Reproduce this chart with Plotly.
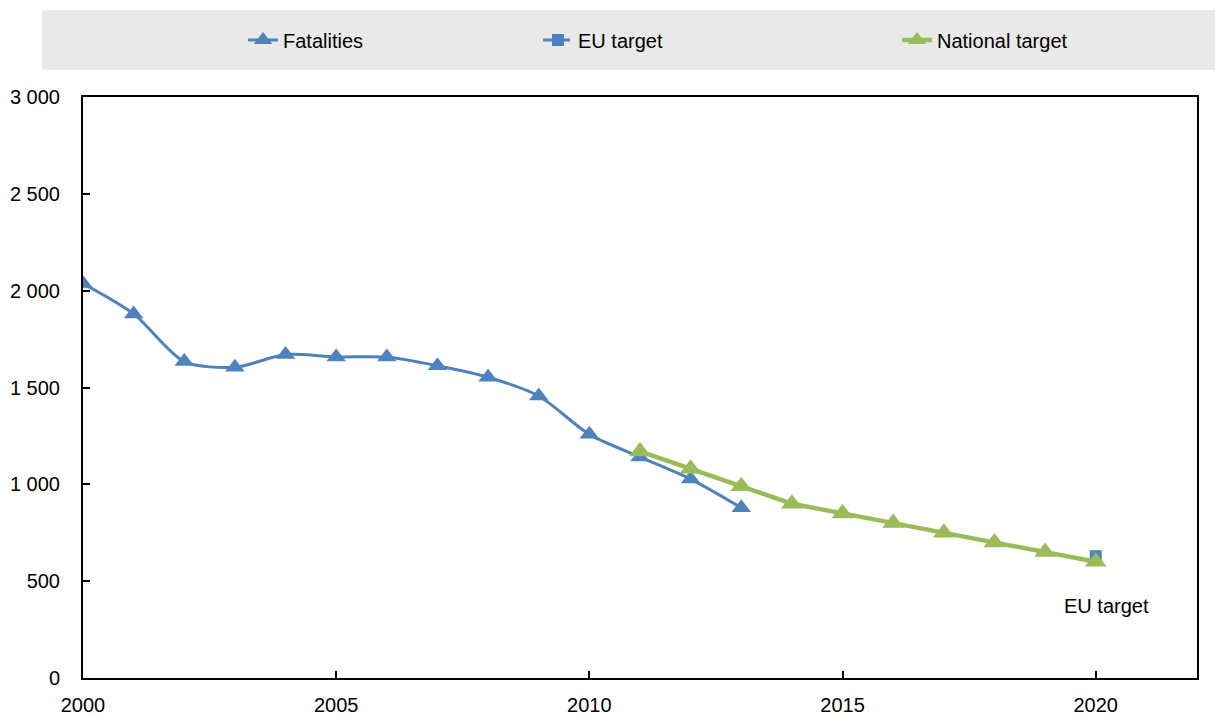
import plotly.graph_objects as go

years_fat = [2000, 2001, 2002, 2003, 2004, 2005, 2006, 2007, 2008, 2009, 2010, 2011, 2012, 2013]
fatalities = [2037, 1880, 1634, 1605, 1670, 1658, 1657, 1612, 1553, 1456, 1258, 1141, 1027, 879]

years_nat = [2011, 2012, 2013, 2014, 2015, 2016, 2017, 2018, 2019, 2020]
national_target = [1170, 1080, 990, 900, 850, 800, 750, 700, 650, 600]

years_eu = [2020]
eu_target = [629]

x_ticks = [2000, 2005, 2010, 2015, 2020]
y_ticks = [0, 500, 1000, 1500, 2000, 2500, 3000]

FONT = "Liberation Sans Narrow, Arial Narrow, Liberation Sans, Arial, sans-serif"
BLUE = "#4F81BD"
GREEN = "#9BBB59"
FS = 20

# page body has an 8px default margin; figure coords = screen coords - 8
OFF = 8
W, H = 1223 - OFF, 718 - OFF
PL, PR, PT, PB = 83 - OFF, 1197 - OFF, 97 - OFF, 678 - OFF


def px_x(px):
    return (px - OFF - PL) / (PR - PL)


def px_y(py):
    return (PB - (py - OFF)) / (PB - PT)


fig = go.Figure()
fig.add_trace(go.Scatter(
    x=years_fat, y=fatalities, name="Fatalities", mode="lines+markers", legend="legend",
    line=dict(color=BLUE, width=3, shape="spline", smoothing=0.8),
    marker=dict(symbol="triangle-up", size=17, color=BLUE),
))
fig.add_trace(go.Scatter(
    x=years_eu, y=eu_target, name="EU target", mode="lines+markers", legend="legend2",
    line=dict(color=BLUE, width=3, dash="dash"),
    marker=dict(symbol="square", size=12, color=BLUE),
))
fig.add_trace(go.Scatter(
    x=years_nat, y=national_target, name="National target", mode="lines+markers", legend="legend3",
    line=dict(color=GREEN, width=4.5),
    marker=dict(symbol="triangle-up", size=19, color=GREEN),
))

fig.add_annotation(x=2020.22, y=370, text="EU target", showarrow=False,
                   font=dict(family=FONT, size=FS, color="#000000"))

fig.add_shape(type="rect", xref="paper", yref="paper",
              x0=px_x(42), x1=px_x(1223), y0=px_y(70), y1=px_y(10),
              fillcolor="#E9E9E9", line=dict(width=0), layer="below")

leg_common = dict(orientation="h", y=px_y(40), yanchor="middle",
                  xanchor="left", bgcolor="rgba(0,0,0,0)",
                  font=dict(family=FONT, size=FS, color="#000000"))

fig.update_layout(
    width=W, height=H,
    margin=dict(l=PL, r=W - PR, t=PT, b=H - PB, autoexpand=False),
    paper_bgcolor="white", plot_bgcolor="white",
    font=dict(family=FONT, size=FS, color="#000000"),
    separators=". ",
    showlegend=True,
    legend=dict(x=px_x(283 - 40), **leg_common),
    legend2=dict(x=px_x(578 - 40), **leg_common),
    legend3=dict(x=px_x(937 - 40), **leg_common),
)
fig.update_xaxes(range=[2000, 2022], tickvals=x_ticks, ticks="inside", ticklen=7,
                 tickcolor="black", tickwidth=1.5,
                 showline=True, linecolor="black", linewidth=2, mirror=True,
                 showgrid=False, zeroline=False, ticklabelstandoff=8, automargin=False)
fig.update_yaxes(range=[0, 3000], tickvals=y_ticks, tickformat=",d", ticks="inside", ticklen=7,
                 tickcolor="black", tickwidth=1.5,
                 showline=True, linecolor="black", linewidth=2, mirror=True,
                 showgrid=False, zeroline=False, ticklabelstandoff=17, automargin=False)

fig.write_html("out.html")
